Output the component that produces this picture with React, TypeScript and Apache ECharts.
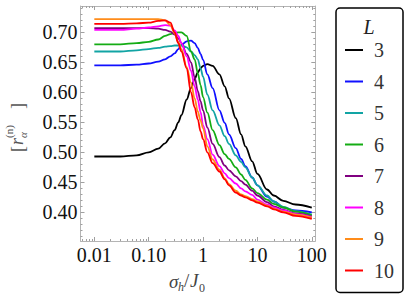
import React, { useEffect, useRef } from "react";
import * as echarts from "echarts";

// ---- data ----
const X_VALUES = [0.01, 0.03, 0.06, 0.1, 0.15, 0.2, 0.25, 0.3, 0.35, 0.4, 0.5, 0.6, 0.7, 0.8, 0.9, 1, 1.2, 1.5, 2, 2.5, 3, 4, 5, 6, 8, 10, 15, 20, 30, 50, 100];

const L_NAMES = ["3", "4", "5", "6", "7", "8", "9", "10"];

const Y_L3 = [0.493, 0.493, 0.495, 0.5, 0.506, 0.515, 0.525, 0.537, 0.55, 0.562, 0.588, 0.607, 0.622, 0.633, 0.64, 0.644, 0.647, 0.644, 0.63, 0.61, 0.59, 0.557, 0.53, 0.51, 0.485, 0.464, 0.438, 0.428, 0.419, 0.413, 0.408];
const Y_L4 = [0.645, 0.645, 0.646, 0.648, 0.651, 0.655, 0.66, 0.665, 0.672, 0.679, 0.685, 0.686, 0.682, 0.674, 0.664, 0.654, 0.63, 0.607, 0.57, 0.549, 0.53, 0.507, 0.489, 0.477, 0.458, 0.445, 0.426, 0.418, 0.408, 0.403, 0.4];
const Y_L5 = [0.668, 0.668, 0.67, 0.672, 0.674, 0.676, 0.677, 0.678, 0.678, 0.678, 0.675, 0.668, 0.662, 0.655, 0.64, 0.626, 0.596, 0.57, 0.545, 0.527, 0.514, 0.495, 0.484, 0.475, 0.458, 0.445, 0.428, 0.418, 0.409, 0.402, 0.396];
const Y_L6 = [0.68, 0.68, 0.682, 0.684, 0.688, 0.694, 0.697, 0.699, 0.7, 0.7, 0.694, 0.668, 0.655, 0.632, 0.612, 0.592, 0.566, 0.537, 0.512, 0.497, 0.489, 0.475, 0.463, 0.454, 0.44, 0.432, 0.421, 0.414, 0.408, 0.401, 0.395];
const Y_L7 = [0.707, 0.707, 0.707, 0.707, 0.706, 0.704, 0.701, 0.696, 0.69, 0.682, 0.664, 0.65, 0.625, 0.602, 0.585, 0.57, 0.541, 0.514, 0.492, 0.478, 0.47, 0.46, 0.452, 0.446, 0.436, 0.428, 0.417, 0.41, 0.404, 0.398, 0.393];
const Y_L8 = [0.704, 0.704, 0.706, 0.708, 0.71, 0.712, 0.711, 0.703, 0.694, 0.682, 0.66, 0.636, 0.61, 0.588, 0.567, 0.545, 0.522, 0.496, 0.477, 0.465, 0.457, 0.448, 0.44, 0.435, 0.429, 0.421, 0.413, 0.408, 0.403, 0.397, 0.392];
const Y_L9 = [0.722, 0.722, 0.722, 0.722, 0.722, 0.72, 0.712, 0.698, 0.684, 0.672, 0.642, 0.616, 0.59, 0.568, 0.553, 0.54, 0.51, 0.488, 0.471, 0.457, 0.447, 0.436, 0.43, 0.427, 0.422, 0.418, 0.411, 0.406, 0.401, 0.396, 0.391];
const Y_L10 = [0.714, 0.714, 0.715, 0.716, 0.719, 0.72, 0.716, 0.7, 0.682, 0.668, 0.64, 0.6, 0.575, 0.555, 0.535, 0.522, 0.5, 0.482, 0.468, 0.455, 0.445, 0.433, 0.428, 0.425, 0.42, 0.416, 0.41, 0.405, 0.4, 0.394, 0.389];

const SERIES_Y = [Y_L3, Y_L4, Y_L5, Y_L6, Y_L7, Y_L8, Y_L9, Y_L10];
const COLORS = ["#000000", "#1010ff", "#12a4a4", "#14ac14", "#800080", "#ff00ff", "#ff8c1a", "#ff0000"];

const X_MAJOR = [0.01, 0.1, 1, 10, 100];
const X_TICK_LABELS = ["0.01", "0.10", "1", "10", "100"];
const X_MINOR = [0.006, 0.007, 0.008, 0.009, 0.02, 0.03, 0.04, 0.05, 0.06, 0.07, 0.08, 0.09, 0.2, 0.3, 0.4, 0.5, 0.6, 0.7, 0.8, 0.9, 2, 3, 4, 5, 6, 7, 8, 9, 20, 30, 40, 50, 60, 70, 80, 90];
const Y_MAJOR = [0.4, 0.45, 0.5, 0.55, 0.6, 0.65, 0.7];
const Y_MINOR = [0.36, 0.37, 0.38, 0.39, 0.41, 0.42, 0.43, 0.44, 0.46, 0.47, 0.48, 0.49, 0.51, 0.52, 0.53, 0.54, 0.56, 0.57, 0.58, 0.59, 0.61, 0.62, 0.63, 0.64, 0.66, 0.67, 0.68, 0.69, 0.71, 0.72, 0.73, 0.74];

const X_MIN = 0.00557;
const X_MAX = 116;
const Y_MIN = 0.3522;
const Y_MAX = 0.7438;

const SERIF = "Times New Roman";
const FRAME = "#b4b4b4";
const TICK = "#a0a0a0";

function xAxisDef(position: "top" | "bottom", values: number[], len: number, labels: boolean, line: boolean) {
  return {
    type: "log",
    logBase: 10,
    min: X_MIN,
    max: X_MAX,
    position,
    axisLine: { show: line, lineStyle: { color: FRAME, width: 1 } },
    axisTick: { show: true, inside: true, length: len, customValues: values, lineStyle: { color: TICK, width: 1 } },
    axisLabel: {
      show: labels,
      customValues: X_MAJOR,
      margin: 4,
      fontSize: 20,
      fontFamily: SERIF,
      color: "#111",
      formatter: (v: number) => {
        let best = 0;
        X_MAJOR.forEach((m, i) => {
          if (Math.abs(Math.log10(m) - Math.log10(v)) < Math.abs(Math.log10(X_MAJOR[best]) - Math.log10(v))) best = i;
        });
        return X_TICK_LABELS[best];
      },
    },
    splitLine: { show: false },
    minorTick: { show: false },
  };
}

function yAxisDef(position: "left" | "right", values: number[], len: number, labels: boolean, line: boolean) {
  return {
    type: "value",
    min: Y_MIN,
    max: Y_MAX,
    position,
    axisLine: { show: line, lineStyle: { color: FRAME, width: 1 } },
    axisTick: { show: true, inside: true, length: len, customValues: values, lineStyle: { color: TICK, width: 1 } },
    axisLabel: {
      show: labels,
      customValues: Y_MAJOR,
      margin: 3,
      fontSize: 20,
      fontFamily: SERIF,
      color: "#111",
      formatter: (v: number) => v.toFixed(2),
    },
    splitLine: { show: false },
  };
}

export default function App() {
  const ref = useRef<HTMLDivElement>(null);
  useEffect(() => {
    if (!ref.current) return;
    const chart = echarts.init(ref.current, undefined, { renderer: "svg" });
    const series = L_NAMES.map((name, k) => ({
      name,
      type: "line",
      xAxisIndex: 0,
      yAxisIndex: 0,
      data: X_VALUES.map((x, i) => [x, SERIES_Y[k][i]]),
      smooth: 0.35,
      smoothMonotone: "x",
      showSymbol: false,
      symbol: "none",
      color: COLORS[k],
      lineStyle: { width: 1.8, color: COLORS[k] },
      z: 2 + k,
    }));
    chart.setOption({
      animation: false,
      textStyle: { fontFamily: SERIF },
      grid: { left: 80.5, right: 99.7, top: 6, bottom: 64 },
      xAxis: [
        xAxisDef("bottom", X_MAJOR, 4, true, true),
        xAxisDef("bottom", X_MINOR, 2, false, false),
        xAxisDef("top", X_MAJOR, 4, false, true),
        xAxisDef("top", X_MINOR, 2, false, false),
      ],
      yAxis: [
        yAxisDef("left", Y_MAJOR, 4, true, true),
        yAxisDef("left", Y_MINOR, 2, false, false),
        yAxisDef("right", Y_MAJOR, 4, false, true),
        yAxisDef("right", Y_MINOR, 2, false, false),
      ],
      legend: {
        orient: "vertical",
        left: 345,
        top: 40,
        itemWidth: 18,
        itemHeight: 2,
        itemGap: 11.5,
        icon: "rect",
        padding: 0,
        data: L_NAMES,
        textStyle: {
          fontFamily: SERIF,
          fontSize: 20,
          color: "#333",
          padding: [0, 0, 0, 6],
        },
      },
      graphic: [
        {
          type: "rect",
          shape: { x: 336, y: 8, width: 67, height: 284.5, r: 4 },
          style: { fill: "none", stroke: "#000", lineWidth: 1.5 },
          silent: true,
        },
        {
          type: "text",
          x: 369,
          y: 27,
          style: { text: "L", fontSize: 20, fontStyle: "italic", fontFamily: SERIF, fill: "#222", align: "center", verticalAlign: "middle" },
        },
        {
          type: "group",
          x: 21,
          y: 127,
          rotation: Math.PI / 2,
          children: [
            { type: "text", x: -25, y: -3, style: { text: "[", fontSize: 18, fontFamily: SERIF, fill: "#555", align: "left", verticalAlign: "middle" } },
            { type: "text", x: -18, y: -4, style: { text: "r", fontSize: 18, fontStyle: "italic", fontFamily: SERIF, fill: "#555", align: "left", verticalAlign: "middle" } },
            { type: "text", x: -11, y: 2, style: { text: "α", fontSize: 11, fontStyle: "italic", fontFamily: SERIF, fill: "#555", align: "left", verticalAlign: "middle" } },
            { type: "text", x: -11, y: -12, style: { text: "(n)", fontSize: 11, fontFamily: SERIF, fill: "#555", align: "left", verticalAlign: "middle" } },
            { type: "text", x: 18, y: -3, style: { text: "]", fontSize: 18, fontFamily: SERIF, fill: "#555", align: "left", verticalAlign: "middle" } },
          ],
        },
        {
          type: "group",
          children: [
            { type: "text", x: 169, y: 281, style: { text: "σ", fontSize: 19, fontStyle: "italic", fontFamily: SERIF, fill: "#444", align: "left", verticalAlign: "middle" } },
            { type: "text", x: 178, y: 287, style: { text: "h", fontSize: 12, fontStyle: "italic", fontFamily: SERIF, fill: "#444", align: "left", verticalAlign: "middle" } },
            { type: "text", x: 184, y: 280, style: { text: "/", fontSize: 19, fontFamily: SERIF, fill: "#444", align: "left", verticalAlign: "middle" } },
            { type: "text", x: 190, y: 280, style: { text: "J", fontSize: 19, fontStyle: "italic", fontFamily: SERIF, fill: "#444", align: "left", verticalAlign: "middle" } },
            { type: "text", x: 199, y: 288, style: { text: "0", fontSize: 12, fontFamily: SERIF, fill: "#444", align: "left", verticalAlign: "middle" } },
          ],
        },
      ],
      series,
    });
    return () => chart.dispose();
  }, []);
  return <div ref={ref} style={{ width: 415, height: 305, position: "absolute", left: 0, top: 0, background: "#fff" }} />;
}
